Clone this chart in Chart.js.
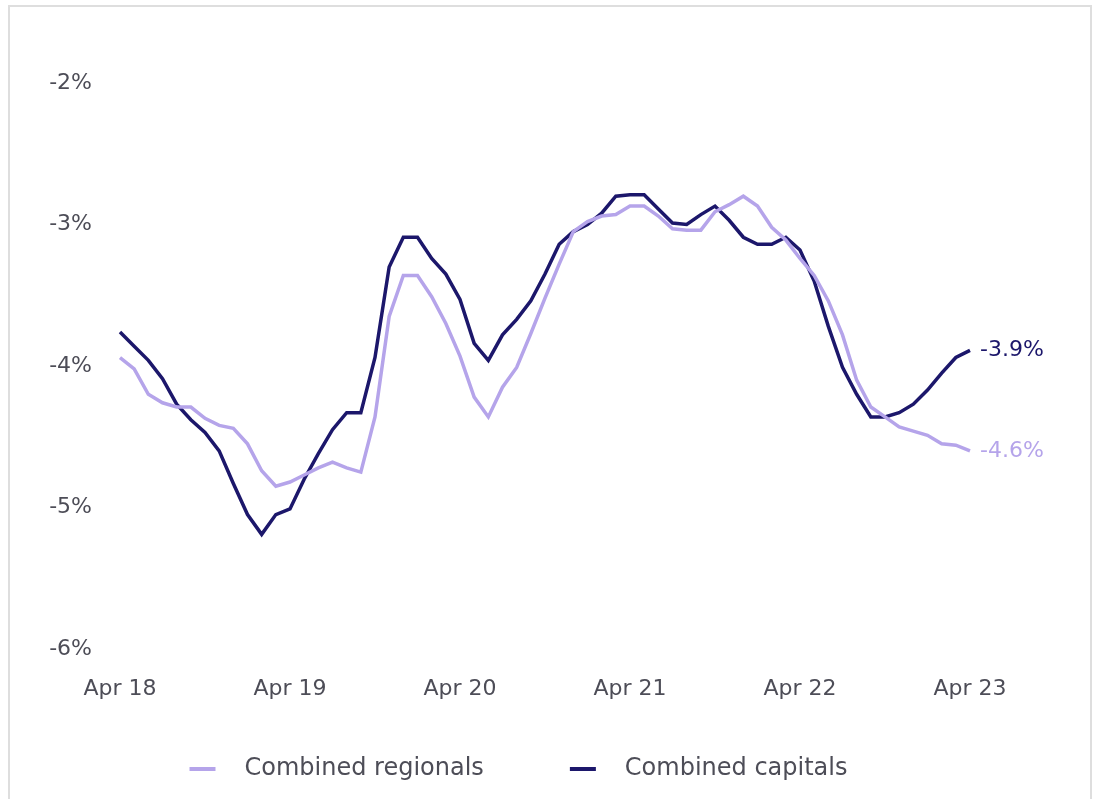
<!DOCTYPE html>
<html>
<head>
<meta charset="utf-8">
<script src="https://cdn.jsdelivr.net/npm/chart.js@4/dist/chart.umd.min.js"></script>
<style>
  html, body { margin: 0; padding: 0; background: #fff; }
  #frame {
    position: absolute; left: 8px; top: 5px; width: 1084px; height: 820px;
    border: 2px solid #dedede; box-sizing: border-box;
  }
  #financeChart { position: absolute; left: 0; top: 0; }
</style>
</head>
<body>
<div id="frame"></div>
<canvas id="financeChart" width="1099" height="799"></canvas>
<script>
/* DADOS */
const monthNames = ['Jan', 'Feb', 'Mar', 'Apr', 'May', 'Jun', 'Jul', 'Aug', 'Sep', 'Oct', 'Nov', 'Dec'];
const labels = [];
for (let i = 0; i <= 60; i++) {
  const m = (3 + i) % 12;
  const y = 18 + Math.floor((3 + i) / 12);
  labels.push(monthNames[m] + ' ' + y);
}

const regionals = [
  -3.94, -4.02, -4.20, -4.26, -4.29, -4.29, -4.37, -4.42, -4.44, -4.55, -4.74, -4.85,
  -4.82, -4.77, -4.72, -4.68, -4.72, -4.75, -4.36, -3.65, -3.36, -3.36, -3.51, -3.70,
  -3.93, -4.22, -4.36, -4.15, -4.01, -3.77, -3.52, -3.28, -3.05, -2.98, -2.94, -2.93,
  -2.87, -2.87, -2.94, -3.03, -3.04, -3.04, -2.91, -2.86, -2.80, -2.87, -3.02, -3.11,
  -3.24, -3.36, -3.54, -3.78, -4.10, -4.29, -4.36, -4.43, -4.46, -4.49, -4.55, -4.56,
  -4.60
];

const capitals = [
  -3.76, -3.86, -3.96, -4.09, -4.27, -4.38, -4.47, -4.60, -4.83, -5.05, -5.19, -5.05,
  -5.01, -4.80, -4.62, -4.45, -4.33, -4.33, -3.94, -3.30, -3.09, -3.09, -3.24, -3.35,
  -3.53, -3.84, -3.96, -3.78, -3.67, -3.54, -3.35, -3.14, -3.05, -3.00, -2.92, -2.80,
  -2.79, -2.79, -2.89, -2.99, -3.00, -2.93, -2.87, -2.97, -3.09, -3.14, -3.14, -3.09,
  -3.18, -3.40, -3.72, -4.01, -4.20, -4.36, -4.36, -4.33, -4.27, -4.17, -4.05, -3.94,
  -3.89
];

const yTicks = [-6, -5, -4, -3, -2];

/* ESTILO */
const FONT = "'DejaVu Sans', 'Noto Sans', sans-serif";
const TEXT = '#4d4d57';
const LIGHT = '#b5a4ea';
const NAVY = '#1c176b';

// amostra da legenda: espaço vazio à esquerda, traço de 26px, folga até o texto
function swatch(color) {
  const c = document.createElement('canvas');
  c.width = 110;
  c.height = 4;
  const g = c.getContext('2d');
  g.fillStyle = color;
  g.fillRect(67, 0, 26, 4);
  return c;
}

/* RÓTULOS FINAIS */
const endLabels = {
  id: 'endLabels',
  afterDatasetsDraw(chart) {
    const ctx = chart.ctx;
    ctx.save();
    ctx.font = '22px ' + FONT;
    ctx.textBaseline = 'middle';
    ctx.textAlign = 'left';
    chart.data.datasets.forEach((ds, i) => {
      const meta = chart.getDatasetMeta(i);
      const pt = meta.data[meta.data.length - 1];
      const v = ds.data[ds.data.length - 1];
      ctx.fillStyle = ds.borderColor;
      ctx.fillText(v.toFixed(1) + '%', pt.x + 10, pt.y);
    });
    ctx.restore();
  }
};

/* GRÁFICO */
const ctx = document.getElementById('financeChart').getContext('2d');

const financeChart = new Chart(ctx, {
  type: 'line',
  data: {
    labels: labels,
    datasets: [{
      label: 'Combined regionals',
      data: regionals,
      borderColor: LIGHT,
      backgroundColor: LIGHT,
      borderWidth: 3.5,
      pointRadius: 0,
      tension: 0
    }, {
      label: 'Combined capitals',
      data: capitals,
      borderColor: NAVY,
      backgroundColor: NAVY,
      borderWidth: 3.5,
      pointRadius: 0,
      tension: 0
    }]
  },
  options: {
    responsive: false,
    animation: false,
    layout: {
      padding: { left: 0, right: 129, top: 83, bottom: 8 }
    },
    scales: {
      x: {
        offset: false,
        grid: { display: false, drawTicks: false },
        border: { display: false },
        afterFit: s => { s.height = 89; },
        ticks: {
          autoSkip: false,
          maxRotation: 0,
          padding: 27,
          color: TEXT,
          font: { family: FONT, size: 22 },
          callback: function (val, i) {
            return i % 12 === 0 ? labels[i] : null;
          }
        }
      },
      y: {
        min: -6,
        max: -2,
        grid: { display: false, drawTicks: false },
        border: { display: false },
        afterFit: s => { s.width = 120; },
        afterBuildTicks: s => { s.ticks = yTicks.map(v => ({ value: v })); },
        ticks: {
          padding: 28,
          color: TEXT,
          font: { family: FONT, size: 22 },
          callback: v => v + '%'
        }
      }
    },
    plugins: {
      tooltip: { enabled: false },
      legend: {
        position: 'bottom',
        labels: {
          usePointStyle: true,
          pointStyleWidth: 110,
          boxHeight: 4,
          padding: 19,
          color: TEXT,
          font: { family: FONT, size: 24 },
          generateLabels: chart => {
            const items = Chart.defaults.plugins.legend.labels.generateLabels(chart);
            items.forEach(it => {
              it.pointStyle = swatch(chart.data.datasets[it.datasetIndex].borderColor);
            });
            return items;
          }
        }
      }
    }
  },
  plugins: [endLabels]
});
</script>
</body>
</html>
